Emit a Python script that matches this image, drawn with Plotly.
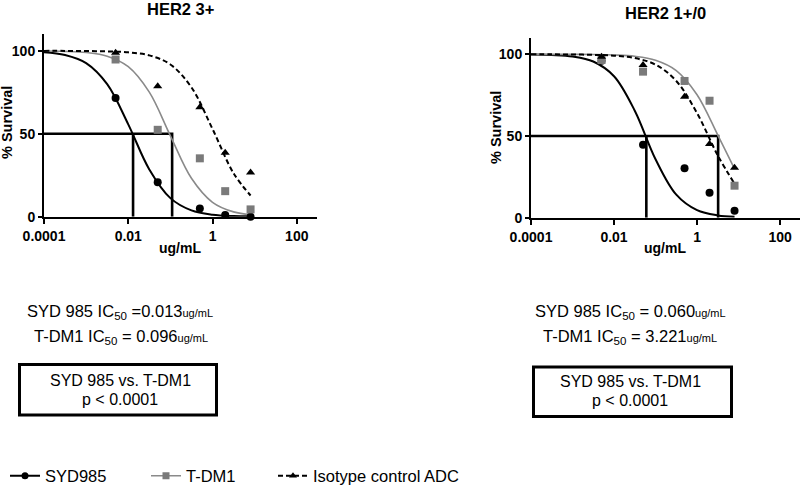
import plotly.graph_objects as go

# ---------------- data ----------------
conc = [0.005, 0.05, 0.5, 2, 8]                      # ug/mL

left_syd = [71.6, 20.8, 5.0, 1.0, 0.0]
left_tdm1 = [94.8, 52.4, 35.2, 15.4, 4.4]
left_iso = [98.8, 78.6, 66.0, 38.6, 26.6]

right_syd = [96.0, 44.7, 30.2, 15.3, 4.3]
right_tdm1 = [96.5, 89.4, 83.7, 71.6, 19.6]
right_iso = [98.5, 93.4, 74.1, 45.1, 30.6]

# fitted curves at half-decade steps
curve_x = [0.0001, 0.000316, 0.001, 0.00316, 0.01, 0.0316, 0.1, 0.316, 1, 3.16, 8]
left_syd_fit = [99.2, 97.5, 92.6, 79.9, 55.7, 28.5, 11.2, 3.8, 1.2, 0.4, 0.2]
left_tdm1_fit = [99.9, 99.7, 99.0, 96.8, 90.5, 75.1, 48.8, 23.2, 8.7, 2.9, 1.2]
left_iso_fit = [100, 100, 99.9, 99.7, 99.1, 97.3, 91.8, 78.0, 52.9, 26.2, 12.8]
right_syd_fit = [99.9, 99.6, 98.7, 95.6, 86.6, 65.5, 35.8, 14.1, 4.6, 1.4, 0.6]
right_tdm1_fit = [100, 100, 100, 99.9, 99.6, 98.8, 96.4, 90.1, 75.3, 50.6, 29.9]
right_iso_fit = [100, 100, 99.9, 99.7, 99.2, 97.7, 93.7, 83.7, 64.0, 38.1, 20.8]

# IC50 drop-line positions (SYD985, T-DM1)
left_ic50 = [0.013, 0.11]
right_ic50 = [0.06, 3.22]
half = 50

x_tickvals = [0.0001, 0.01, 1, 100]
x_ticktext = ["0.0001", "0.01", "1", "100"]
y_tickvals = [0, 50, 100]

titles = ["HER2 3+", "HER2 1+/0"]
series_names = ["SYD985", "T-DM1", "Isotype control ADC"]

# ---------------- styling ----------------
W, H = 800, 485
FONT = "Liberation Sans, Arial, Helvetica, sans-serif"
BLACK = "#000000"
GREY = "#7a7a7a"
GREY_LINE = "#8a8a8a"


def px(x):
    return x / W


def py(y):
    return 1 - y / H


fig = go.Figure()

panels = [
    dict(xa="x", ya="y", data=(left_syd, left_tdm1, left_iso),
         fits=(left_syd_fit, left_tdm1_fit, left_iso_fit), ic=left_ic50),
    dict(xa="x2", ya="y2", data=(right_syd, right_tdm1, right_iso),
         fits=(right_syd_fit, right_tdm1_fit, right_iso_fit), ic=right_ic50),
]

styles = [
    dict(color=BLACK, lcolor=BLACK, width=2, dash="solid", symbol="circle", size=8),
    dict(color=GREY, lcolor=GREY_LINE, width=1.6, dash="solid", symbol="square", size=8),
    dict(color=BLACK, lcolor=BLACK, width=2, dash="5px,3px", symbol="triangle-up", size=8),
]

for p in panels:
    ic = p["ic"]
    x0 = x_tickvals[0]
    fig.add_trace(go.Scatter(
        x=[x0, ic[1], ic[1], None, ic[0], ic[0]],
        y=[half, half, 0, None, half, 0],
        mode="lines", line=dict(color=BLACK, width=2.6),
        xaxis=p["xa"], yaxis=p["ya"], showlegend=False, hoverinfo="skip",
        cliponaxis=False))
    for fit, st in zip(p["fits"], styles):
        fig.add_trace(go.Scatter(
            x=curve_x, y=fit, mode="lines",
            line=dict(color=st["lcolor"], width=st["width"], dash=st["dash"], shape="spline", smoothing=1.0),
            xaxis=p["xa"], yaxis=p["ya"], showlegend=False, hoverinfo="skip"))
    for vals, st in zip(p["data"], styles):
        fig.add_trace(go.Scatter(
            x=conc, y=vals, mode="markers",
            marker=dict(color=st["color"], symbol=st["symbol"], size=st["size"], line=dict(width=0)),
            xaxis=p["xa"], yaxis=p["ya"], showlegend=False, cliponaxis=False))

# legend entries (one legend each so they can be placed like the original)
legend_ids = ["legend", "legend2", "legend3"]
for name, st, lid in zip(series_names, styles, legend_ids):
    fig.add_trace(go.Scatter(
        x=[None], y=[None], mode="lines+markers", name=name,
        line=dict(color=st["lcolor"], width=st["width"], dash=st["dash"]),
        marker=dict(color=st["color"], symbol=st["symbol"], size=7),
        xaxis="x", yaxis="y", legend=lid, showlegend=True))

axis_font = dict(family=FONT, size=14, color=BLACK, weight="bold")

common_x = dict(type="log", range=[-4, 2.48], tickvals=x_tickvals, ticktext=x_ticktext,
                showline=True, linecolor=BLACK, linewidth=2, ticks="outside", ticklen=5,
                tickwidth=2, tickcolor=BLACK, showgrid=False, zeroline=False,
                tickfont=axis_font, automargin=False)
common_y = dict(range=[0, 110], tickvals=y_tickvals, showline=True, linecolor=BLACK,
                linewidth=2, ticks="outside", ticklen=4, tickwidth=2, tickcolor=BLACK,
                showgrid=False, zeroline=False, tickfont=axis_font, automargin=False)

fig.update_layout(
    width=W, height=H, margin=dict(l=0, r=0, t=0, b=0, pad=0, autoexpand=False),
    paper_bgcolor="white", plot_bgcolor="white",
    font=dict(family=FONT, color=BLACK),
    xaxis=dict(domain=[px(44), px(317)], anchor="y", **common_x),
    yaxis=dict(domain=[py(216.7), py(34.3)], anchor="x", **common_y),
    xaxis2=dict(domain=[px(531), px(800)], anchor="y2", **common_x),
    yaxis2=dict(domain=[py(217.7), py(38)], anchor="x2", **common_y),
    showlegend=True,
)

leg_common = dict(orientation="h", xanchor="left", yanchor="middle", y=py(476),
                  font=dict(family=FONT, size=16.5, color=BLACK),
                  bgcolor="rgba(0,0,0,0)", itemwidth=30, borderwidth=0)
fig.update_layout(
    legend=dict(x=px(5), **leg_common),
    legend2=dict(x=px(146), **leg_common),
    legend3=dict(x=px(273), **leg_common),
)

ann = []
# panel titles
ann.append(dict(x=px(180), y=py(9), text="<b>" + titles[0] + "</b>", font=dict(size=16.5)))
ann.append(dict(x=px(665), y=py(12.5), text="<b>" + titles[1] + "</b>", font=dict(size=16.5)))
# axis titles
for xc in (180, 665):
    ann.append(dict(x=px(xc), y=py(248), text="<b>ug/mL</b>", font=dict(size=14)))
ann.append(dict(x=px(7), y=py(123), text="<b>% Survival</b>", textangle=-90, font=dict(size=14.5)))
ann.append(dict(x=px(496), y=py(128), text="<b>% Survival</b>", textangle=-90, font=dict(size=14.5)))

unit = "<span style='font-size:11px'>ug/mL</span>"
ic_lines = [
    (120, 312, "SYD 985 IC<sub>50</sub> =0.013" + unit),
    (121, 337, "T-DM1 IC<sub>50</sub> = 0.096" + unit),
    (630, 312, "SYD 985 IC<sub>50</sub> = 0.060" + unit),
    (630, 337, "T-DM1 IC<sub>50</sub> = 3.221" + unit),
]
for xc, yc, t in ic_lines:
    ann.append(dict(x=px(xc), y=py(yc), text=t, font=dict(size=16.5)))

box_lines = [
    (120, 380, "SYD 985 vs. T-DM1"), (120, 399, "p < 0.0001"),
    (630, 381, "SYD 985 vs. T-DM1"), (630, 400, "p < 0.0001"),
]
for xc, yc, t in box_lines:
    ann.append(dict(x=px(xc), y=py(yc), text=t, font=dict(size=16)))

for a in ann:
    a.update(xref="paper", yref="paper", showarrow=False, xanchor="center", yanchor="middle")
    a["font"] = dict(family=FONT, color=BLACK, size=a["font"]["size"])
fig.update_layout(annotations=ann)

shapes = [
    dict(type="rect", xref="paper", yref="paper", x0=px(19.5), x1=px(216.5), y0=py(415), y1=py(364.5),
         line=dict(color=BLACK, width=3)),
    dict(type="rect", xref="paper", yref="paper", x0=px(533.5), x1=px(731.5), y0=py(416.5), y1=py(367),
         line=dict(color=BLACK, width=3)),
]
fig.update_layout(shapes=shapes)

fig.write_html("out.html", config={"displayModeBar": False},
               post_script="document.body.style.margin='0px';")
